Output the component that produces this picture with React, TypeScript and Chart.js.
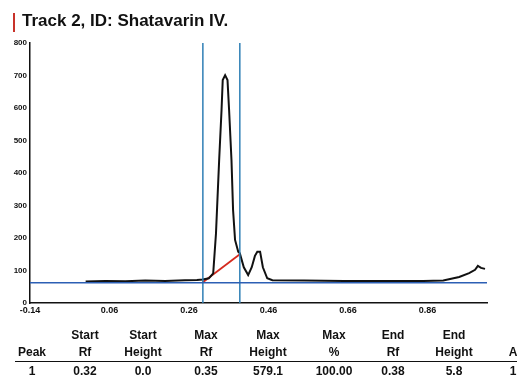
import React, { useEffect, useRef } from "react";
import { Chart, registerables } from "chart.js";

Chart.register(...registerables);

// Densitogram trace (Rf vs AU)
const traceRf = [0.0, 0.05, 0.1, 0.15, 0.2, 0.25, 0.28, 0.295, 0.31, 0.321, 0.328, 0.336, 0.342, 0.345, 0.351, 0.357, 0.361, 0.367, 0.371, 0.376, 0.384, 0.388, 0.398, 0.409, 0.418, 0.426, 0.432, 0.439, 0.446, 0.457, 0.47, 0.55, 0.65, 0.75, 0.85, 0.9, 0.94, 0.965, 0.98, 0.987, 0.995, 1.005];
const traceAu = [66, 68, 67, 69, 68, 70, 71, 72, 76, 91, 214, 440, 594, 686, 701, 686, 594, 440, 286, 194, 158, 153, 110, 86, 110, 145, 158, 158, 110, 76, 70, 69, 68, 68, 68, 69, 80, 92, 102, 114, 108, 105];

const baselineAu = 62;
const peakStartRf = 0.295;
const peakEndRf = 0.388;
const peakStartAu = 64;
const peakEndAu = 150;

const xTicks = [-0.14, 0.06, 0.26, 0.46, 0.66, 0.86];
const yTicks = [0, 100, 200, 300, 400, 500, 600, 700, 800];
const xMin = -0.14;
const xMax = 1.01;
const yMax = 800;

const title = "Track 2, ID: Shatavarin IV.";
const headerRow1 = ["", "Start", "Start", "Max", "Max", "Max", "End", "End", ""];
const headerRow2 = ["Peak", "Rf", "Height", "Rf", "Height", "%", "Rf", "Height", "A"];
const dataRow = ["1", "0.32", "0.0", "0.35", "579.1", "100.00", "0.38", "5.8", "1"];
const colCenters = [32, 85, 143, 206, 268, 334, 393, 454, 513];

export default function App() {
  const ref = useRef<HTMLCanvasElement | null>(null);

  useEffect(() => {
    if (!ref.current) return;
    const chart = new Chart(ref.current, {
      type: "line",
      data: {
        datasets: [
          {
            data: [
              { x: xMin, y: baselineAu },
              { x: xMax, y: baselineAu },
            ],
            borderColor: "#2c5fb4",
            borderWidth: 1.5,
            pointRadius: 0,
          },
          {
            data: [
              { x: peakStartRf, y: 0 },
              { x: peakStartRf, y: yMax },
            ],
            borderColor: "#2f7fb5",
            borderWidth: 1.5,
            pointRadius: 0,
          },
          {
            data: [
              { x: peakEndRf, y: 0 },
              { x: peakEndRf, y: yMax },
            ],
            borderColor: "#2f7fb5",
            borderWidth: 1.5,
            pointRadius: 0,
          },
          {
            data: traceRf.map((x, i) => ({ x, y: traceAu[i] })),
            borderColor: "#111111",
            borderWidth: 2,
            pointRadius: 0,
            tension: 0,
          },
          {
            data: [
              { x: peakStartRf, y: peakStartAu },
              { x: peakEndRf, y: peakEndAu },
            ],
            borderColor: "#d42a1e",
            borderWidth: 1.8,
            pointRadius: 0,
          },
        ],
      },
      options: {
        animation: false,
        responsive: false,
        events: [],
        layout: { padding: { left: 0, top: 43, right: 30, bottom: 0 } },
        plugins: { legend: { display: false }, tooltip: { enabled: false }, title: { display: false } },
        scales: {
          x: {
            type: "linear",
            min: xMin,
            max: xMax,
            afterBuildTicks: (s: any) => {
              s.ticks = xTicks.map((v) => ({ value: v }));
            },
            afterFit: (s: any) => {
              s.height = 78;
            },
            grid: { display: false, drawTicks: false },
            border: { display: true, color: "#111", width: 1.5 },
            ticks: {
              autoSkip: false,
              maxRotation: 0,
              padding: 2,
              color: "#111",
              font: { family: "Liberation Sans", size: 9, weight: "bold" },
              callback: (v: any) => Number(v).toFixed(2),
            },
          },
          y: {
            type: "linear",
            min: 0,
            max: yMax,
            afterBuildTicks: (s: any) => {
              s.ticks = yTicks.map((v) => ({ value: v }));
            },
            afterFit: (s: any) => {
              s.width = 30;
            },
            grid: { display: false, drawTicks: false },
            border: { display: true, color: "#111", width: 1.5 },
            ticks: {
              autoSkip: false,
              padding: 3,
              color: "#111",
              font: { family: "Liberation Sans", size: 8, weight: "bold" },
            },
          },
        },
      },
    });
    return () => chart.destroy();
  }, []);

  const cell = (text: string, x: number, y: number, key: string) => (
    <div
      key={key}
      style={{
        position: "absolute",
        left: x,
        top: y,
        transform: "translateX(-50%)",
        whiteSpace: "nowrap",
        fontFamily: "Liberation Sans, Arial, sans-serif",
        fontWeight: "bold",
        fontSize: 12,
        lineHeight: "13px",
        color: "#111",
      }}
    >
      {text}
    </div>
  );

  return (
    <div
      style={{
        position: "fixed",
        left: 0,
        top: 0,
        width: 517,
        height: 381,
        background: "#fff",
        overflow: "hidden",
      }}
    >
      <canvas ref={ref} width={517} height={381} style={{ position: "absolute", left: 0, top: 0, display: "block" }} />
      <div style={{ position: "absolute", left: 13, top: 13, width: 2, height: 19, background: "#c8322a" }} />
      <div
        style={{
          position: "absolute",
          left: 22,
          top: 11,
          whiteSpace: "nowrap",
          fontFamily: "Liberation Sans, Arial, sans-serif",
          fontWeight: "bold",
          fontSize: 17,
          lineHeight: "20px",
          color: "#111",
        }}
      >
        {title}
      </div>
      {headerRow1.map((t, i) => (t ? cell(t, colCenters[i], 329, "h1" + i) : null))}
      {headerRow2.map((t, i) => cell(t, colCenters[i], 346, "h2" + i))}
      <div style={{ position: "absolute", left: 15, top: 361, width: 510, height: 0, borderTop: "1.5px solid #111" }} />
      {dataRow.map((t, i) => cell(t, colCenters[i], 365, "d" + i))}
    </div>
  );
}
